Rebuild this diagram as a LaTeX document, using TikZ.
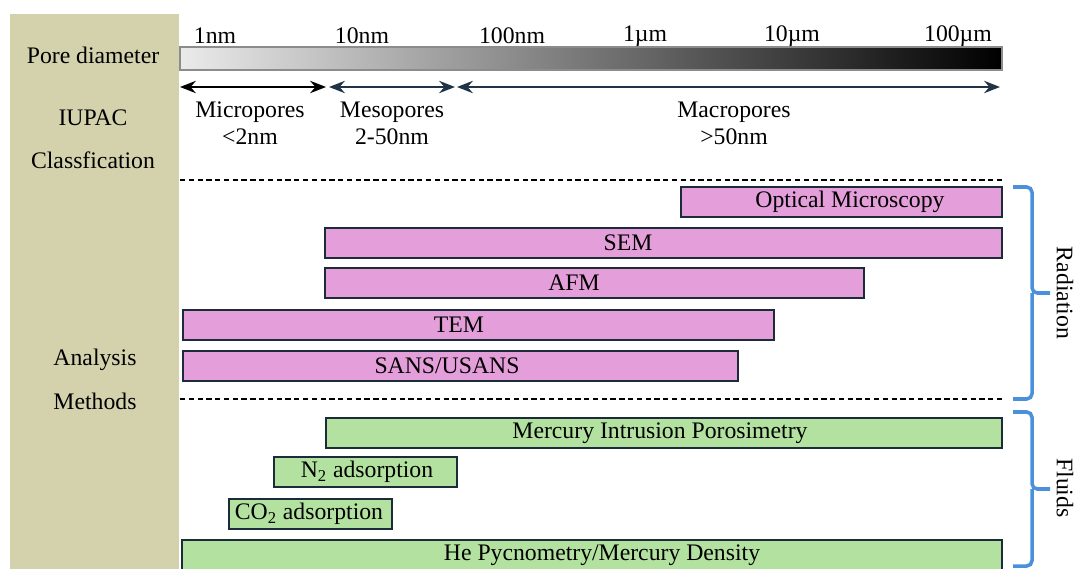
\documentclass[tikz,border=0pt]{standalone}
\usepackage{fontspec}
\setmainfont{Liberation Serif}
\usetikzlibrary{arrows.meta, calc}
\definecolor{panelkhaki}{HTML}{D4D2AD}
\definecolor{radpink}{HTML}{E49FDB}
\definecolor{fluidgreen}{HTML}{B3E2A0}
\definecolor{barborder}{HTML}{1B2B3A}
\definecolor{arrownavy}{HTML}{1F3547}
\definecolor{braceblue}{HTML}{4A90DB}
\definecolor{scalegray}{HTML}{8C8C8C}

% one method bar: style, name, left x, right x, mid y, label x, label
\newcommand{\methodbar}[7]{%
  \node[#1, minimum width={(#4-#3)*0.02cm}, anchor=west] (#2) at (#3,#5) {};
  \node (#2-label) at (#6,#5) {#7};}

% square brace from top to bottom, tip pointing right
\newcommand{\groupbrace}[2]{%
  \draw[group] (#1) -- ++(19,0) |- ($(#1)!0.5!(#2)+(37,0)$)
    ($(#1)!0.5!(#2)+(19,0)$) |- (#2);}

\begin{document}
\begin{tikzpicture}[
      x=0.02cm, y=-0.02cm,
      every node/.style={font=\fontsize{13.5}{15.5}\selectfont, align=center},
      radbar/.style={draw=barborder, fill=radpink, line width=1.4pt,
        minimum height=0.61cm, inner sep=0pt},
      fluidbar/.style={radbar, fill=fluidgreen},
      sep/.style={dash pattern=on 3pt off 2pt, line width=0.9pt},
      span/.style={{Stealth[length=9pt,width=7pt]}-{Stealth[length=9pt,width=7pt]},
        line width=1.2pt, arrownavy},
      group/.style={braceblue, line width=2pt, rounded corners=3pt},
      >=Stealth
    ]
      \useasboundingbox (0,0) rectangle (1075,568);

      % left column
      \fill[panelkhaki] (10,14) rectangle (179,570);
      \node (porelbl) at (93,55) {Pore diameter};
      \node (iupac) at (93,118) {IUPAC};
      \node (classlbl) at (93,160) {Classfication};
      \node (analysis) at (95,360) {Analysis};
      \node (methods) at (95,401) {Methods};

      % size scale
      \shade[left color=black!8, right color=black] (180,47) rectangle (1002,70);
      \draw[scalegray, line width=1.2pt] (180,47) rectangle (1002,70);
      \node (t1) at (215,36) {1nm};
      \node (t2) at (362,36) {10nm};
      \node (t3) at (512,36) {100nm};
      \node (t4) at (645,36) {1µm};
      \node (t5) at (792,36) {10µm};
      \node (t6) at (958,36) {100µm};

      % IUPAC classes
      \coordinate (a0) at (180,87);
      \coordinate (a1) at (326,87);
      \coordinate (a2) at (329,87);
      \coordinate (a3) at (455,87);
      \coordinate (a4) at (457,87);
      \coordinate (a5) at (1000,87);
      \draw[span, black] (a0) -- (a1);
      \draw[span] (a2) -- (a3);
      \draw[span] (a4) -- (a5);
      \node (micro) at (250,123) {Micropores\\<2nm};
      \node (meso) at (392,123) {Mesopores\\2-50nm};
      \node (macro) at (734,123) {Macropores\\>50nm};

      \draw[sep] (180,180) -- (1003,180);
      \draw[sep] (180,399) -- (1003,399);

      % radiation methods
      \methodbar{radbar}{optical}{680}{1001}{202}{850}{Optical Microscopy}
      \methodbar{radbar}{sem}{324}{1001}{243}{628}{SEM}
      \methodbar{radbar}{afm}{324}{863}{283}{574}{AFM}
      \methodbar{radbar}{tem}{182}{773}{325}{459}{TEM}
      \methodbar{radbar}{sans}{182}{737}{366}{447}{SANS/USANS}

      % fluid methods
      \methodbar{fluidbar}{mip}{325}{1001}{433}{660}{Mercury Intrusion Porosimetry}
      \methodbar{fluidbar}{ntwo}{273}{456}{472}{367}{N\textsubscript{2} adsorption}
      \methodbar{fluidbar}{cotwo}{228}{391}{514}{309}{CO\textsubscript{2} adsorption}
      \methodbar{fluidbar}{helium}{181}{1001}{555}{602}{He Pycnometry/Mercury Density}

      % groups
      \coordinate (r0) at (1013,187);
      \coordinate (r1) at (1013,399);
      \coordinate (f0) at (1013,412);
      \coordinate (f1) at (1013,566);
      \groupbrace{r0}{r1}
      \groupbrace{f0}{f1}
      \node[rotate=-90] (radiation) at (1065,293) {Radiation};
      \node[rotate=-90] (fluids) at (1065,488) {Fluids};
    \end{tikzpicture}
\end{document}
